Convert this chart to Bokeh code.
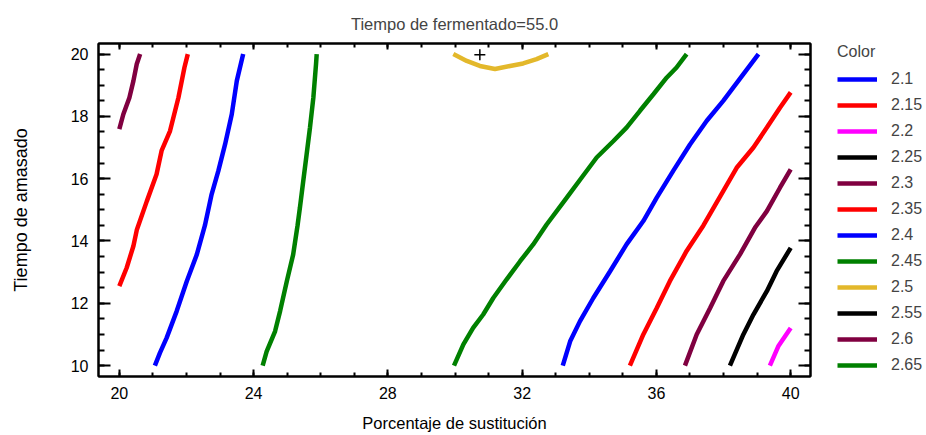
from bokeh.plotting import figure
from bokeh.layouts import row
from bokeh.models import Legend, LegendItem, LinearAxis, Range1d, FixedTicker
from bokeh.embed import file_html
from bokeh.resources import INLINE

# ---------------- data ----------------
title_text = "Tiempo de fermentado=55.0"
x_label = "Porcentaje de sustitución"
y_label = "Tiempo de amasado"
legend_title = "Color"

x_ticks = [20, 24, 28, 32, 36, 40]
y_ticks = [10, 12, 14, 16, 18, 20]

levels = ["2.1", "2.15", "2.2", "2.25", "2.3", "2.35", "2.4", "2.45",
          "2.5", "2.55", "2.6", "2.65"]
level_colors = ["#0000FF", "#FF0000", "#FF00FF", "#000000", "#800040",
                "#FF0000", "#0000FF", "#008000", "#E3B82B", "#000000",
                "#800040", "#008000"]

# contour 2.2
c220_x = [39.38, 39.63, 40.0]
c220_y = [10.0, 10.62, 11.21]
# contour 2.25
c225_x = [38.19, 38.59, 38.89, 39.29, 39.58, 40.0]
c225_y = [10.0, 11.0, 11.64, 12.39, 13.03, 13.78]
# contour 2.3 (left and right pieces)
c230a_x = [20.00, 20.12, 20.30, 20.42, 20.52, 20.62]
c230a_y = [17.59, 18.07, 18.60, 19.14, 19.68, 20.00]
c230b_x = [36.85, 37.20, 37.60, 37.99, 38.49, 38.95, 39.29, 39.68, 40.0]
c230b_y = [10.0, 11.0, 11.85, 12.71, 13.57, 14.45, 14.96, 15.71, 16.30]
# contour 2.35
c235a_x = [20.00, 20.22, 20.42, 20.52, 20.82, 21.11, 21.26, 21.51, 21.76,
           21.94, 22.04]
c235a_y = [12.55, 13.14, 13.84, 14.35, 15.28, 16.14, 16.90, 17.53, 18.60,
           19.57, 20.00]
c235b_x = [35.21, 35.61, 36.01, 36.40, 36.90, 37.40, 37.99, 38.39, 38.89,
           39.29, 39.68, 40.0]
c235b_y = [10.0, 11.0, 11.85, 12.71, 13.68, 14.50, 15.60, 16.35, 17.00,
           17.64, 18.28, 18.77]
# contour 2.4
c240a_x = [21.06, 21.21, 21.41, 21.71, 22.01, 22.31, 22.55, 22.75, 22.95,
           23.15, 23.35, 23.50, 23.69]
c240a_y = [10.0, 10.41, 10.89, 11.75, 12.71, 13.57, 14.50, 15.50, 16.25,
           17.10, 18.07, 19.14, 20.0]
c240b_x = [33.21, 33.43, 33.72, 34.12, 34.62, 35.11, 35.61, 36.01, 36.50,
           37.00, 37.50, 37.99, 38.59, 39.04]
c240b_y = [10.0, 10.78, 11.42, 12.17, 13.03, 13.89, 14.64, 15.39, 16.25,
           17.10, 17.86, 18.50, 19.36, 20.0]
# contour 2.45
c245a_x = [24.27, 24.39, 24.64, 24.79, 24.99, 25.18, 25.31, 25.38, 25.48,
           25.58, 25.68, 25.78, 25.86, 25.88]
c245a_y = [10.0, 10.46, 11.10, 11.75, 12.71, 13.57, 14.50, 15.07, 15.93,
           16.78, 17.64, 18.60, 19.68, 20.0]
c245b_x = [29.97, 30.25, 30.54, 30.84, 31.14, 31.54, 31.94, 32.33, 32.73,
           33.33, 33.77, 34.22, 34.72, 35.11, 35.51, 35.91, 36.31, 36.60,
           36.90]
c245b_y = [10.0, 10.68, 11.21, 11.64, 12.17, 12.77, 13.35, 13.89, 14.53,
           15.39, 16.03, 16.68, 17.21, 17.64, 18.18, 18.71, 19.25, 19.57,
           20.0]
# contour 2.5
c250_x = [29.95, 30.35, 30.74, 31.19, 31.64, 32.03, 32.43, 32.78]
c250_y = [20.0, 19.78, 19.62, 19.52, 19.62, 19.70, 19.84, 20.0]

# optimum marker
opt_x = [30.74]
opt_y = [19.98]

NAN = float("nan")
contours = {
    "2.1": ([], []),
    "2.15": ([], []),
    "2.2": ([c220_x], [c220_y]),
    "2.25": ([c225_x], [c225_y]),
    "2.3": ([c230a_x, c230b_x], [c230a_y, c230b_y]),
    "2.35": ([c235a_x, c235b_x], [c235a_y, c235b_y]),
    "2.4": ([c240a_x, c240b_x], [c240a_y, c240b_y]),
    "2.45": ([c245a_x, c245b_x], [c245a_y, c245b_y]),
    "2.5": ([c250_x], [c250_y]),
    "2.55": ([], []),
    "2.6": ([], []),
    "2.65": ([], []),
}

# ---------------- main figure ----------------
FONT = "Liberation Sans"
LINE_W = 4.5
TOP_B, BOT_B = 43, 59

p = figure(width=820, height=435, output_backend="svg", toolbar_location=None,
           x_range=Range1d(19.38, 40.59), y_range=Range1d(9.65, 20.34),
           min_border_left=98, min_border_right=10, min_border_top=TOP_B,
           min_border_bottom=BOT_B, title=title_text)
p.grid.visible = False
p.outline_line_color = "black"
p.outline_line_width = 2
p.background_fill_color = "white"
p.border_fill_color = "white"

p.title.align = "center"
p.title.text_font = FONT
p.title.text_font_size = "16.5px"
p.title.text_font_style = "normal"
p.title.standoff = 22

x_minor = list(range(20, 41))
y_minor = [10 + 0.5 * i for i in range(21)]


def style_axis(ax, major_in, minor_in, show_labels=True):
    ax.axis_line_color = "black"
    ax.axis_line_width = 2
    ax.major_tick_in = major_in
    ax.major_tick_out = 0
    ax.minor_tick_in = minor_in
    ax.minor_tick_out = 0
    ax.major_tick_line_width = 2
    ax.minor_tick_line_width = 2
    ax.major_tick_line_color = "black"
    ax.minor_tick_line_color = "black"
    ax.major_label_text_font = FONT
    ax.axis_label_text_font = FONT
    ax.axis_label_text_font_style = "normal"
    ax.axis_label_text_color = "black"
    if show_labels:
        ax.major_label_text_font_size = "16px"
        ax.major_label_text_color = "black"
    else:
        ax.major_label_text_font_size = "1px"
        ax.major_label_text_color = None
        ax.major_label_standoff = 0


xax = p.xaxis[0]
xax.ticker = FixedTicker(ticks=x_ticks, minor_ticks=x_minor)
style_axis(xax, 7, 4)
xax.axis_label = x_label
xax.axis_label_text_font_size = "16.5px"
xax.major_label_standoff = 10
xax.axis_label_standoff = 12

yax = p.yaxis[0]
yax.ticker = FixedTicker(ticks=y_ticks, minor_ticks=y_minor)
style_axis(yax, 12, 6)
yax.axis_label = y_label
yax.axis_label_text_font_size = "18px"
yax.major_label_standoff = 10
yax.axis_label_standoff = 37

top_ax = LinearAxis(ticker=FixedTicker(ticks=x_ticks, minor_ticks=x_minor))
style_axis(top_ax, 6, 4, show_labels=False)
p.add_layout(top_ax, "above")

right_ax = LinearAxis(ticker=FixedTicker(ticks=y_ticks, minor_ticks=y_minor))
style_axis(right_ax, 12, 6, show_labels=False)
p.add_layout(right_ax, "right")

for lev, col in zip(levels, level_colors):
    xs, ys = contours[lev]
    if xs:
        p.multi_line(xs=xs, ys=ys, line_color=col, line_width=LINE_W)

p.scatter(x=opt_x, y=opt_y, marker="cross", size=11, line_color="black",
          line_width=1.5)

# ---------------- legend figure ----------------
lg = figure(width=106, height=435, output_backend="svg", toolbar_location=None,
            x_axis_type=None, y_axis_type=None, min_border_left=17,
            min_border_right=0, min_border_top=TOP_B,
            min_border_bottom=BOT_B)
lg.grid.visible = False
lg.outline_line_color = None
lg.background_fill_color = "white"
lg.border_fill_color = "white"

items = []
for lev, col in zip(levels, level_colors):
    r = lg.multi_line(xs=[[NAN, NAN]], ys=[[NAN, NAN]], line_color=col,
                      line_width=LINE_W)
    items.append(LegendItem(label=lev, renderers=[r]))

legend = Legend(items=items, location="top_left", padding=0, margin=0,
                title=legend_title, title_text_font=FONT,
                title_text_font_size="16px", title_text_font_style="normal",
                title_standoff=8,
                glyph_width=40, glyph_height=20, label_height=20, spacing=6,
                label_standoff=14, label_text_font=FONT,
                label_text_font_size="16px", border_line_color=None,
                background_fill_alpha=0)
lg.add_layout(legend, "center")

layout = row(p, lg)
open("out.html", "w").write(file_html(layout, INLINE))
